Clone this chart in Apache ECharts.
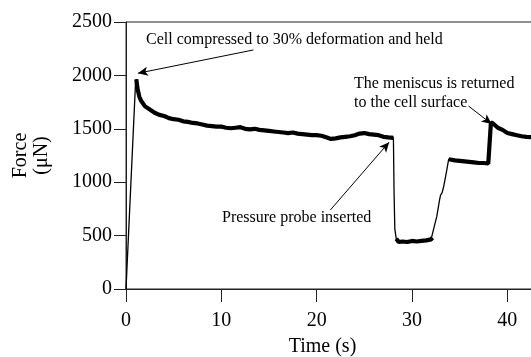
<!DOCTYPE html>
<html>
<head>
<meta charset="utf-8">
<script src="https://cdn.jsdelivr.net/npm/echarts@6/dist/echarts.min.js"></script>
<style>
  html, body { margin: 0; padding: 0; background: #fff; }
  #chart { width: 531px; height: 357px; }
</style>
</head>
<body>
<div id="chart"></div>
<script>
// force trace (time in s, force in uN)
const timeS = [
  0, 0.05, 1.0, 1.08, 1.2, 1.4, 1.6, 2.0, 2.5, 3.0, 3.5, 4.0, 4.5, 5.0, 5.5, 6.0, 6.5, 7.0, 7.5, 8.0,
  8.5, 9.0, 9.5, 10.0, 10.5, 11.0, 11.5, 12.0, 12.5, 13.0, 13.5, 14.0, 14.5, 15.0, 15.5, 16.0, 16.5, 17.0,
  17.5, 18.0, 18.5, 19.0, 19.5, 20.0, 20.5, 21.0, 21.5, 22.0, 22.5, 23.0, 23.5, 24.0, 24.5, 25.0, 25.5,
  26.0, 26.5, 27.0, 27.5, 28.05, 28.12, 28.2, 28.35, 28.6, 29.0, 29.5, 30.0, 30.5, 31.0, 31.5, 32.0,
  32.15, 32.6, 32.9, 33.0, 33.15, 33.3, 33.6, 33.85, 34.0, 34.5, 35.0, 35.5, 36.0, 36.5, 37.0, 37.5,
  38.0, 38.2, 38.28, 38.5, 39.0, 39.5, 40.0, 40.5, 41.0, 41.5, 42.0, 43.0
]
const forceUN = [
  0, 0, 1930, 1965, 1880, 1800, 1760, 1710, 1680, 1650, 1630, 1620, 1600, 1590, 1585, 1570, 1565, 1555, 1550, 1540,
  1530, 1525, 1520, 1520, 1510, 1505, 1510, 1515, 1500, 1495, 1500, 1490, 1485, 1480, 1475, 1470, 1465, 1460,
  1465, 1455, 1450, 1445, 1440, 1440, 1435, 1420, 1405, 1410, 1420, 1425, 1430, 1440, 1455, 1460, 1450,
  1445, 1440, 1425, 1420, 1415, 900, 560, 470, 440, 445, 440, 450, 445, 450, 455, 465,
  480, 680, 840, 880, 900, 950, 1090, 1215, 1215, 1205, 1200, 1195, 1190, 1185, 1180, 1180,
  1175, 1175, 1560, 1550, 1510, 1490, 1460, 1450, 1440, 1430, 1425, 1420
]
// time spans where the recorded trace is held (drawn heavier, noisy in the original)
const holdSpans = [[1.08, 28.05], [28.35, 32.15], [33.85, 38.2], [38.28, 43]]

const yTicks = { min: 0, max: 2500, step: 500 }
const xTicks = { min: 0, max: 45, step: 10 }

// annotation arrows: [from, to] in data units
const arrows = [
  [[13.36, 2238], [1.25, 2020]],
  [[21.44, 740], [27.6, 1375]],
  [[35.93, 1713], [38.35, 1545]]
]

const serif = 'Liberation Serif'
const thin = timeS.map((t, i) => [t, forceUN[i]])
const thick = timeS.map((t, i) => {
  const held = holdSpans.some(s => t >= s[0] && t <= s[1])
  return [t, held ? forceUN[i] : null]
})

const chart = echarts.init(document.getElementById('chart'), null, { renderer: 'canvas' })
chart.setOption({
  animation: false,
  backgroundColor: '#fff',
  grid: {
    left: 126, top: 22, width: 429, height: 267,
    outerBoundsMode: 'none',
    containLabel: false,
    show: true, borderColor: '#222', borderWidth: 1, backgroundColor: 'transparent'
  },
  xAxis: {
    type: 'value',
    min: xTicks.min, max: xTicks.max, interval: xTicks.step,
    name: 'Time (s)',
    nameLocation: 'middle',
    nameGap: 48,
    nameTextStyle: { fontFamily: serif, fontSize: 20, color: '#000', padding: [0, 36, 0, 0] },
    axisLine: { lineStyle: { color: '#222', width: 1 } },
    axisTick: { inside: false, length: 13, lineStyle: { color: '#222' } },
    axisLabel: { margin: 22, fontFamily: serif, fontSize: 20, color: '#000', formatter: v => String(v) },
    splitLine: { show: false }
  },
  yAxis: {
    type: 'value',
    min: yTicks.min, max: yTicks.max, interval: yTicks.step,
    name: 'Force\n(μN)',
    nameLocation: 'middle',
    nameRotate: 90,
    nameGap: 74,
    nameTextStyle: { fontFamily: serif, fontSize: 20, color: '#000', lineHeight: 21 },
    axisLine: { lineStyle: { color: '#222', width: 1 } },
    axisTick: { inside: false, length: 12, lineStyle: { color: '#222' } },
    axisLabel: { margin: 14, fontFamily: serif, fontSize: 20, color: '#000', formatter: v => String(v) },
    splitLine: { show: false }
  },
  series: [
    {
      type: 'line',
      data: thin,
      showSymbol: false,
      lineStyle: { color: '#000', width: 1.3 },
      silent: true,
      markLine: {
        silent: true,
        symbol: ['none', 'arrow'],
        symbolSize: [7, 10],
        label: { show: false },
        lineStyle: { color: '#000', width: 1, type: 'solid' },
        data: arrows.map(a => [{ coord: a[0] }, { coord: a[1] }])
      }
    },
    {
      type: 'line',
      data: thick,
      showSymbol: false,
      connectNulls: false,
      lineStyle: { color: '#000', width: 4.2 },
      silent: true
    }
  ],
  graphic: [
    {
      type: 'text', left: 146, top: 32,
      style: { text: 'Cell compressed to 30% deformation and held', font: '16px "Liberation Serif"', fill: '#000' }
    },
    {
      type: 'text', left: 354, top: 74,
      style: { text: 'The meniscus is returned\nto the cell surface', font: '16px "Liberation Serif"', lineHeight: 19, fill: '#000' }
    },
    {
      type: 'text', left: 222, top: 210,
      style: { text: 'Pressure probe inserted', font: '16px "Liberation Serif"', fill: '#000' }
    }
  ]
})
</script>
</body>
</html>
